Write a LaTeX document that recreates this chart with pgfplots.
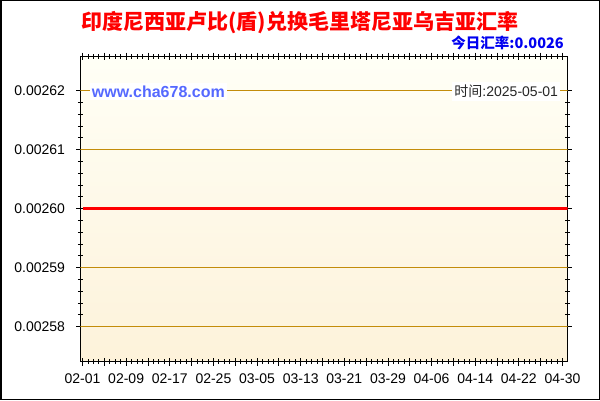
\documentclass[border=0pt]{standalone}
\usepackage{fontspec}
\setmainfont{Liberation Sans}
\newfontfamily\cjk{Noto Sans CJK SC}[BoldFont={Noto Sans CJK SC Black}]
\usepackage{pgfplots}
\pgfplotsset{compat=1.18}

\definecolor{gridgold}{RGB}{195,140,10}
\definecolor{bgtop}{RGB}{255,255,246}
\definecolor{bgbot}{RGB}{253,242,218}
\definecolor{webblue}{RGB}{85,105,255}
\definecolor{rateblue}{RGB}{0,0,240}

\begin{document}
\begin{tikzpicture}[x=1pt,y=1pt]
\path[use as bounding box] (0,0) rectangle (600,400);
\draw[line width=1.5pt] (0.75,0.75) rectangle (599.25,399.25);

\node[text=red, font=\cjk\bfseries\fontsize{21}{21}\selectfont] at (300,377) {印度尼西亚卢比(盾)兑换毛里塔尼亚乌吉亚汇率};
\node[anchor=east, text=rateblue, font=\cjk\bfseries\fontsize{14.5}{14.5}\selectfont, inner sep=0pt] at (564,357) {今日汇率:0.0026};

\begin{axis}[
    at={(80.5pt,38.5pt)}, anchor=south west,
    scale only axis, width=487pt, height=305pt,
    xmin=-0.37, xmax=88.92,
    ymin=0.0025740678, ymax=0.0026257627,
    scaled y ticks=false,
    axis background/.style={top color=bgtop, bottom color=bgbot},
    xtick={0,4,...,88},
    xticklabels={02-01,,02-09,,02-17,,02-25,,03-05,,03-13,,03-21,,03-29,,04-06,,04-14,,04-22,,04-30},
    minor xtick={0,1,...,88},
    ytick={0.00258,0.00259,0.0026,0.00261,0.00262},
    yticklabels={0.00258,0.00259,0.00260,0.00261,0.00262},
    minor y tick num=4,
    xtick pos=both, ytick pos=both,
    tick align=center,
    major tick length=8pt, minor tick length=5pt,
    tick style={black, line width=0.8pt},
    axis line style={black, line width=1pt},
    ticklabel style={font=\fontsize{14}{14}\selectfont, text=black},
    yticklabel style={xshift=-8pt},
    xticklabel style={yshift=-5pt},
    clip=true,
]
% horizontal grid lines at the major y ticks
\draw[gridgold, line width=1pt] (axis cs:-0.37,0.00258) -- (axis cs:88.92,0.00258);
\draw[gridgold, line width=1pt] (axis cs:-0.37,0.00259) -- (axis cs:88.92,0.00259);
\draw[gridgold, line width=1pt] (axis cs:-0.37,0.00261) -- (axis cs:88.92,0.00261);
\draw[gridgold, line width=1pt] (axis cs:-0.37,0.00262) -- (axis cs:88.92,0.00262);

\addplot[red, line width=3pt] coordinates {
(0,0.0026) (1,0.0026) (2,0.0026) (3,0.0026) (4,0.0026) (5,0.0026) (6,0.0026) (7,0.0026) (8,0.0026) (9,0.0026)
(10,0.0026) (11,0.0026) (12,0.0026) (13,0.0026) (14,0.0026) (15,0.0026) (16,0.0026) (17,0.0026) (18,0.0026) (19,0.0026)
(20,0.0026) (21,0.0026) (22,0.0026) (23,0.0026) (24,0.0026) (25,0.0026) (26,0.0026) (27,0.0026) (28,0.0026) (29,0.0026)
(30,0.0026) (31,0.0026) (32,0.0026) (33,0.0026) (34,0.0026) (35,0.0026) (36,0.0026) (37,0.0026) (38,0.0026) (39,0.0026)
(40,0.0026) (41,0.0026) (42,0.0026) (43,0.0026) (44,0.0026) (45,0.0026) (46,0.0026) (47,0.0026) (48,0.0026) (49,0.0026)
(50,0.0026) (51,0.0026) (52,0.0026) (53,0.0026) (54,0.0026) (55,0.0026) (56,0.0026) (57,0.0026) (58,0.0026) (59,0.0026)
(60,0.0026) (61,0.0026) (62,0.0026) (63,0.0026) (64,0.0026) (65,0.0026) (66,0.0026) (67,0.0026) (68,0.0026) (69,0.0026)
(70,0.0026) (71,0.0026) (72,0.0026) (73,0.0026) (74,0.0026) (75,0.0026) (76,0.0026) (77,0.0026) (78,0.0026) (79,0.0026)
(80,0.0026) (81,0.0026) (82,0.0026) (83,0.0026) (84,0.0026) (85,0.0026) (86,0.0026) (87,0.0026) (88,0.0026) (89,0.0026)
};
\node[anchor=west, fill=white, text=webblue, inner xsep=2pt, inner ysep=3pt,
      font=\bfseries\fontsize{16}{16}\selectfont] at (rel axis cs:0.019,0.885) {www.cha678.com};
\node[anchor=east, fill=white, text=black!85, inner xsep=2pt, inner ysep=3pt,
      font=\fontsize{14}{14}\selectfont] at (rel axis cs:0.985,0.885) {{\cjk 时间}:2025-05-01};
\end{axis}
\end{tikzpicture}
\end{document}
